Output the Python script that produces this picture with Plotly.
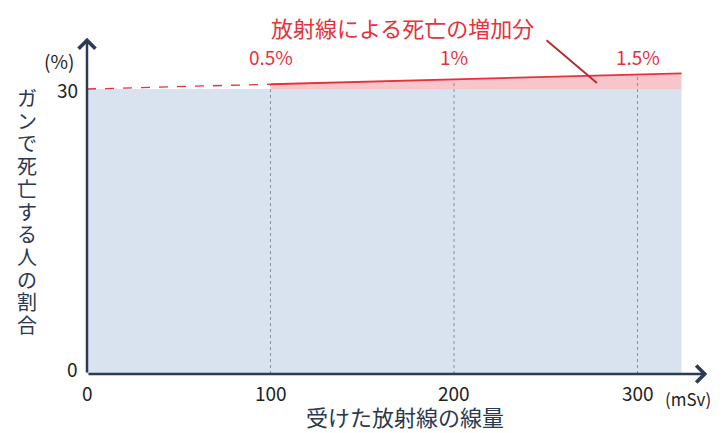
import plotly.graph_objects as go

# Dose (mSv) and cancer death rate (%)
dose = [0, 100, 200, 300, 324]
baseline_rate = 30
death_rate = [30.0, 30.5, 31.0, 31.5, 31.65]
marked_doses = [100, 200, 300]
increase_labels = ["0.5%", "1%", "1.5%"]
x_ticks = [0, 100, 200, 300]
y_ticks = [0, 30]
y_title = "ガンで死亡する人の割合"
x_title = "受けた放射線の線量"
increase_title = "放射線による死亡の増加分"

NAVY = "#2b3b57"
TEXT = "#2a3850"
RED = "#e5323c"
BLUE_FILL = "#d9e2ef"
PINK_FILL = "#f8c6ca"
FONT = "Noto Sans CJK JP"

fig = go.Figure()

# Baseline area (blue)
fig.add_trace(go.Scatter(
    x=[dose[0], dose[-1], dose[-1], dose[0]],
    y=[0, 0, baseline_rate, baseline_rate],
    fill="toself", fillcolor=BLUE_FILL, line=dict(width=0),
    mode="lines", hoverinfo="skip", showlegend=False))

# Radiation-induced increase (pink), from 100 mSv upward
xs = dose[1:]
ys = death_rate[1:]
fig.add_trace(go.Scatter(
    x=xs + xs[::-1],
    y=ys + [baseline_rate] * len(xs),
    fill="toself", fillcolor=PINK_FILL, line=dict(width=0),
    mode="lines", hoverinfo="skip", showlegend=False))

# Vertical dotted guides
for d in marked_doses:
    r = death_rate[dose.index(d)]
    fig.add_trace(go.Scatter(
        x=[d, d], y=[0, r], mode="lines",
        line=dict(color="#8a8f99", width=1, dash="dot"),
        hoverinfo="skip", showlegend=False))

# Dashed extrapolation below 100 mSv
fig.add_trace(go.Scatter(
    x=dose[:2], y=death_rate[:2], mode="lines",
    line=dict(color=RED, width=1.3, dash="dash"),
    hoverinfo="skip", showlegend=False))

# Solid risk line from 100 mSv
fig.add_trace(go.Scatter(
    x=xs, y=ys, mode="lines",
    line=dict(color=RED, width=1.8),
    hoverinfo="skip", showlegend=False))

annotations = []
# Axis arrows
annotations.append(dict(x=338, y=0, ax=0, ay=0, xref="x", yref="y", axref="x", ayref="y",
                        showarrow=True, arrowhead=4, arrowsize=1.3, arrowwidth=2.5,
                        arrowcolor=NAVY, text=""))
annotations.append(dict(x=0, y=35.4, ax=0, ay=0, xref="x", yref="y", axref="x", ayref="y",
                        showarrow=True, arrowhead=4, arrowsize=1.3, arrowwidth=2.5,
                        arrowcolor=NAVY, text=""))

# Tick labels
for t in x_ticks:
    annotations.append(dict(x=t, y=-1.9, xref="x", yref="y", text=str(t), showarrow=False,
                            yanchor="middle", font=dict(family=FONT, size=19, color="#222")))
for t, ty in zip(y_ticks, [0.6, 30.0]):
    annotations.append(dict(x=-3.6, y=ty, xref="x", yref="y", text=str(t), showarrow=False,
                            xanchor="right", yanchor="middle",
                            font=dict(family=FONT, size=19, color="#222")))
annotations.append(dict(x=-15.3, y=33.05, xref="x", yref="y", text="(%)", showarrow=False,
                        font=dict(family=FONT, size=19, color="#222")))
annotations.append(dict(x=327.5, y=-2.55, xref="x", yref="y", text="(mSv)", showarrow=False,
                        font=dict(family=FONT, size=17, color="#222")))

# Axis titles
annotations.append(dict(x=173.3, y=(374 - 416) / 9.5, xref="x", yref="y", text=x_title,
                        showarrow=False, yanchor="middle",
                        font=dict(family=FONT, size=22, color=TEXT)))
# Vertical (upright) y-axis title, one character per line
for i, ch in enumerate(y_title):
    py = 97 + i * 22.7
    annotations.append(dict(x=-32.7, y=(374 - py) / 9.5, xref="x", yref="y",
                            text=ch, showarrow=False, height=22,
                            font=dict(family=FONT, size=20, color=TEXT)))

# Increase labels
for d, lab in zip(marked_doses, increase_labels):
    annotations.append(dict(x=d, y=33.45, xref="x", yref="y", text=lab, showarrow=False,
                            font=dict(family=FONT, size=19, color=RED)))
annotations.append(dict(x=171.7, y=36.5, xref="x", yref="y", text=increase_title,
                        showarrow=False, font=dict(family=FONT, size=22, color=RED)))
# Leader line to the pink area
annotations.append(dict(x=277.9, y=30.63, ax=249.6, ay=35.26, xref="x", yref="y",
                        axref="x", ayref="y", showarrow=True, arrowhead=0,
                        arrowwidth=1.8, arrowcolor="#b8262e", text=""))

fig.update_layout(
    width=722, height=433,
    margin=dict(l=0, r=0, t=0, b=0),
    paper_bgcolor="white", plot_bgcolor="white",
    xaxis=dict(range=[-87 / 1.835, 635 / 1.835], visible=False, fixedrange=True),
    yaxis=dict(range=[-59 / 9.5, 374 / 9.5], visible=False, fixedrange=True),
    annotations=annotations,
)

fig.write_html("out.html")
